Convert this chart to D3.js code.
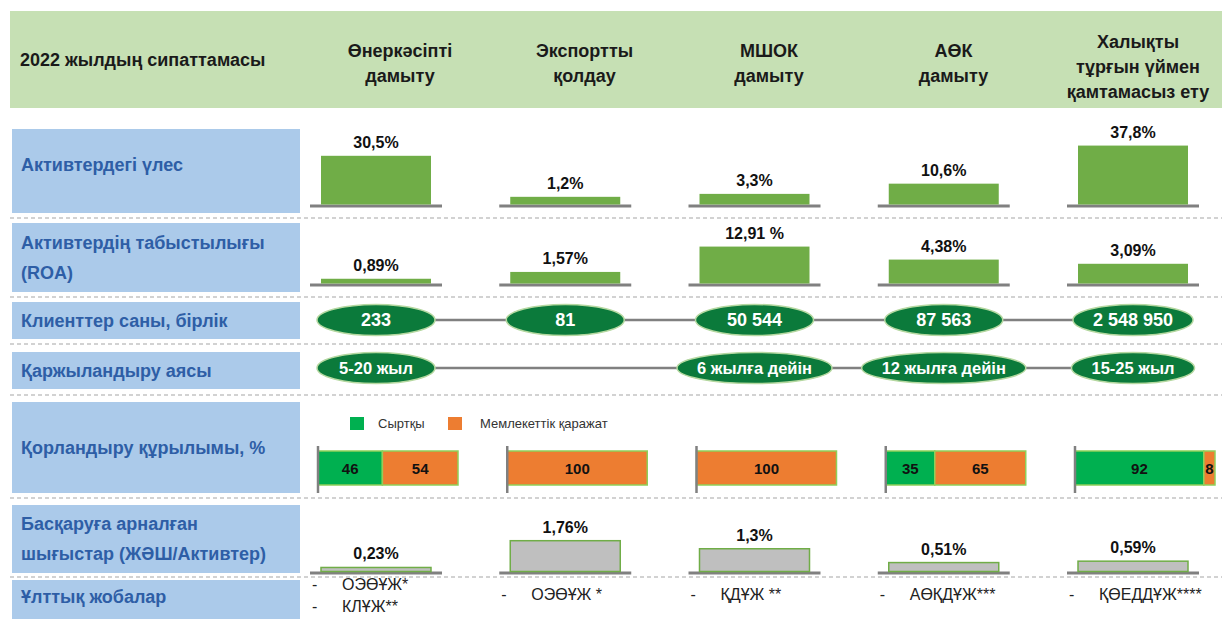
<!DOCTYPE html>
<html>
<head>
<meta charset="utf-8">
<script src="https://cdn.jsdelivr.net/npm/d3@7"></script>
<style>
  html, body { margin: 0; padding: 0; background: #ffffff; }
  svg { display: block; font-family: "Liberation Sans", Arial, sans-serif; }
</style>
</head>
<body>
<svg id="chart" width="1222" height="619"></svg>
<script>
// ---------------- DATA ----------------
const titleText = "2022 жылдың сипаттамасы";
const directions = [
  "Өнеркәсіпті\nдамыту",
  "Экспортты\nқолдау",
  "МШОК\nдамыту",
  "АӨК\nдамыту",
  "Халықты\nтұрғын үймен\nқамтамасыз ету"
];
const rowLabels = [
  "Активтердегі үлес",
  "Активтердің табыстылығы\n(ROA)",
  "Клиенттер саны, бірлік",
  "Қаржыландыру аясы",
  "Қорландыру құрылымы, %",
  "Басқаруға арналған\nшығыстар (ЖӘШ/Активтер)",
  "Ұлттық жобалар"
];
const assetShare = [30.5, 1.2, 3.3, 10.6, 37.8];
const assetShareLabels = ["30,5%", "1,2%", "3,3%", "10,6%", "37,8%"];
const roa = [0.89, 1.57, 12.91, 4.38, 3.09];
const roaLabels = ["0,89%", "1,57%", "12,91 %", "4,38%", "3,09%"];
const clients = [233, 81, 50544, 87563, 2548950];
const fundingTerms = ["5-20 жыл", null, "6 жылға дейін", "12 жылға дейін", "15-25 жыл"];
const fundingSeries = ["Сыртқы", "Мемлекеттік қаражат"];
const fundingExternal = [46, 0, 0, 35, 92];
const fundingState = [54, 100, 100, 65, 8];
const adminExpenses = [0.23, 1.76, 1.3, 0.51, 0.59];
const adminExpenseLabels = ["0,23%", "1,76%", "1,3%", "0,51%", "0,59%"];
const nationalProjects = [["ОЭӨҰЖ*", "КЛҰЖ**"], ["ОЭӨҰЖ *"], ["ҚДҰЖ **"], ["АӨҚДҰЖ***"], ["ҚӨЕДДҰЖ****"]];

// ---------------- STYLE / LAYOUT ----------------
const W = 1222, H = 619;
const C = {
  header: "#c6e0b4", labelBox: "#abcaea", labelText: "#2e5ea6",
  bar: "#70ad47", base: "#808080", ellipse: "#0b7a3b", ellipseStroke: "#b5d8a0",
  ext: "#00b050", state: "#ed7d31", stackStroke: "#8fcf5a", gray: "#bfbfbf", dash: "#c4c4c4"
};
const rows = [ // label boxes [top, bottom]
  [129, 213], [223, 292], [302, 339], [352, 389], [402, 493], [505, 573], [580, 625]
];
const labelCenters = [165, 257.5, 320.5, 370.5, 447.5, 539, 597];
const separators = [218, 297, 344, 395, 498, 577];

const svg = d3.select("#chart");
const fmtInt = d3.formatLocale({decimal: ",", thousands: "\u00a0", grouping: [3], currency: ["", ""]}).format(",d");

// column scales
const x = d3.scalePoint().domain(d3.range(directions.length)).range([376, 1133]);
const xHead = d3.scalePoint().domain(d3.range(directions.length)).range([400, 1138]);

// ---------------- HEADER ----------------
svg.append("rect").attr("x", 10).attr("y", 11).attr("width", W - 10).attr("height", 97).attr("fill", C.header);
svg.append("text").attr("x", 20).attr("y", 66).attr("font-size", 18).attr("font-weight", "bold")
  .attr("fill", "#1a1a1a").text(titleText);

directions.forEach((d, i) => {
  const lines = d.split("\n");
  const lh = 25;
  const cy = lines.length > 2 ? 67 : 63;
  const t = svg.append("text").attr("text-anchor", "middle").attr("font-size", 18)
    .attr("font-weight", "bold").attr("fill", "#1a1a1a");
  lines.forEach((ln, j) => {
    t.append("tspan").attr("x", xHead(i))
      .attr("y", cy + (j - (lines.length - 1) / 2) * lh + 6).text(ln);
  });
});

// ---------------- ROW LABELS ----------------
rowLabels.forEach((lab, r) => {
  const [y0, y1] = rows[r];
  svg.append("rect").attr("x", 12).attr("y", y0).attr("width", 288).attr("height", y1 - y0).attr("fill", C.labelBox);
  const lines = lab.split("\n");
  const lh = 30;
  const cy = labelCenters[r];
  const t = svg.append("text").attr("font-size", 18).attr("font-weight", "bold").attr("fill", C.labelText);
  lines.forEach((ln, j) => {
    t.append("tspan").attr("x", 21).attr("y", cy + (j - (lines.length - 1) / 2) * lh + 6).text(ln);
  });
});

// separators
svg.append("g").selectAll("line").data(separators).join("line")
  .attr("x1", 10).attr("x2", W).attr("y1", d => d).attr("y2", d => d)
  .attr("stroke", C.dash).attr("stroke-width", 1.3).attr("stroke-dasharray", "4,3");

// ---------------- BAR ROW HELPER ----------------
function barRow(values, labels, scale, baseY, fill, stroke) {
  const g = svg.append("g");
  g.selectAll("line.base").data(values).join("line")
    .attr("x1", (d, i) => x(i) - 66).attr("x2", (d, i) => x(i) + 66)
    .attr("y1", baseY).attr("y2", baseY).attr("stroke", C.base).attr("stroke-width", 3);
  g.selectAll("rect").data(values).join("rect")
    .attr("x", (d, i) => x(i) - 55).attr("width", 110)
    .attr("y", d => baseY - 1.5 - scale(d)).attr("height", d => scale(d))
    .attr("fill", fill).attr("stroke", stroke || "none").attr("stroke-width", stroke ? 1.5 : 0);
  g.selectAll("text").data(values).join("text")
    .attr("x", (d, i) => x(i)).attr("y", d => baseY - 1.5 - scale(d) - 8)
    .attr("text-anchor", "middle").attr("font-size", 16).attr("font-weight", "bold").attr("fill", "#111")
    .text((d, i) => labels[i]);
}

// Row 1: share of assets
const hAsset = d3.scaleLinear().domain([0, 40]).range([6, 62]);
barRow(assetShare, assetShareLabels, hAsset, 206, C.bar);

// Row 2: ROA
const hRoa = d3.scaleLog().domain([0.6, 13]).range([0, 37]);
barRow(roa, roaLabels, hRoa, 285, C.bar);

// Row 6: admin expenses
const hExp = d3.scaleLinear().domain([0, 2]).range([0, 35]);
barRow(adminExpenses, adminExpenseLabels, hExp, 573, C.gray, C.bar);

// ---------------- ELLIPSE ROWS ----------------
function ellipseRow(items, cy, fontSize, ry) {
  const idx = items.map((d, i) => d == null ? null : i).filter(i => i != null);
  const g = svg.append("g");
  g.append("line").attr("x1", x(idx[0])).attr("x2", x(idx[idx.length - 1]))
    .attr("y1", cy).attr("y2", cy).attr("stroke", C.base).attr("stroke-width", 2.5);
  const nodes = g.selectAll("g.node").data(idx).join("g").attr("class", "node")
    .attr("transform", i => `translate(${x(i)},${cy})`);
  nodes.append("ellipse").attr("rx", 60).attr("ry", ry)
    .attr("fill", C.ellipse).attr("stroke", C.ellipseStroke).attr("stroke-width", 1.5);
  const tx = nodes.append("text").attr("text-anchor", "middle").attr("y", fontSize * 0.36)
    .attr("font-size", fontSize).attr("font-weight", "bold").attr("fill", "#ffffff")
    .text(i => items[i]);
  tx.each(function () {
    const w = this.getComputedTextLength();
    d3.select(this.parentNode).select("ellipse").attr("rx", Math.max(59, w / 2 + 20));
  });
}
ellipseRow(clients.map(fmtInt), 320, 18, 15.5);
ellipseRow(fundingTerms, 368, 16.5, 15.5);

// ---------------- FUNDING STRUCTURE ----------------
const wShare = d3.scaleLinear().domain([0, 100]).range([0, 140]);
const leg = svg.append("g").attr("font-size", 13).attr("fill", "#333");
[[350, C.ext, 378], [448, C.state, 480]].forEach(([lx, col, tx], k) => {
  leg.append("rect").attr("x", lx).attr("y", 417).attr("width", 14).attr("height", 13).attr("fill", col);
  leg.append("text").attr("x", tx).attr("y", 428).text(fundingSeries[k]);
});
const sg = svg.append("g");
fundingExternal.forEach((ext, i) => {
  const x0 = x(i) - 58;
  const segs = [[ext, C.ext, 0], [fundingState[i], C.state, ext]];
  segs.forEach(([v, col, start]) => {
    if (v <= 0) return;
    sg.append("rect").attr("x", x0 + wShare(start)).attr("y", 451).attr("width", wShare(v)).attr("height", 34)
      .attr("fill", col).attr("stroke", C.stackStroke).attr("stroke-width", 1.5);
    sg.append("text").attr("x", x0 + wShare(start) + wShare(v) / 2).attr("y", 474)
      .attr("text-anchor", "middle").attr("font-size", 15).attr("font-weight", "bold").attr("fill", "#111")
      .text(v);
  });
  sg.append("line").attr("x1", x0).attr("x2", x0).attr("y1", 446).attr("y2", 493)
    .attr("stroke", C.base).attr("stroke-width", 2.5);
});

// ---------------- NATIONAL PROJECTS ----------------
const pg = svg.append("g").attr("font-size", 16).attr("fill", "#222");
nationalProjects.forEach((list, i) => {
  list.forEach((p, j) => {
    const y = list.length > 1 ? 590 + j * 22 : 600;
    pg.append("text").attr("x", x(i) - 64).attr("y", y).text("-");
    pg.append("text").attr("x", x(i) - 34).attr("y", y).text(p);
  });
});
</script>
</body>
</html>
